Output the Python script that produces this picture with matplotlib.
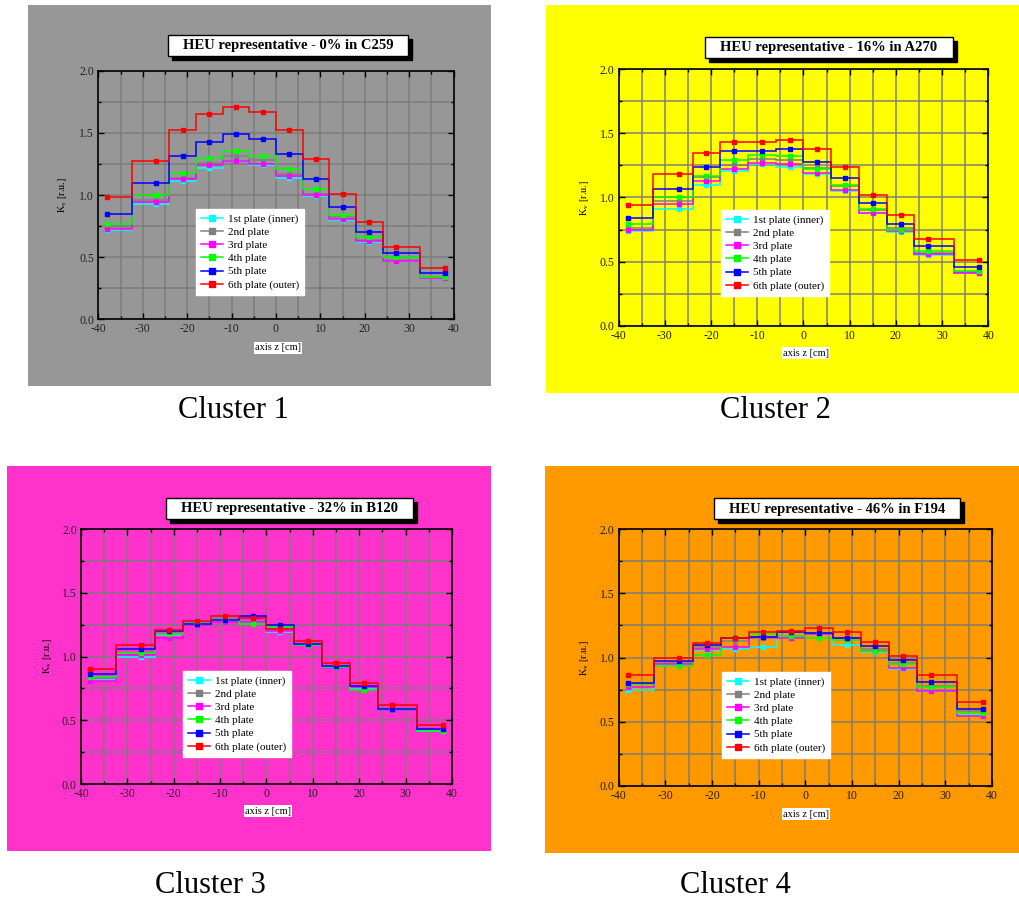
import matplotlib
matplotlib.use("Agg")
import matplotlib.pyplot as plt
from matplotlib.patches import Rectangle
from matplotlib.ticker import MultipleLocator, FormatStrFormatter

plt.rcParams['font.family'] = ['Liberation Serif', 'DejaVu Serif']
plt.rcParams['axes.unicode_minus'] = False
plt.rcParams['mathtext.fontset'] = 'custom'
plt.rcParams['mathtext.rm'] = 'Liberation Serif'

W, H = 1020, 905

# axial step edges and mid points [cm]
edges = [-38.5, -32.5, -24, -18, -12, -6, 0, 6, 12, 18, 24, 32.5, 38.5]
z_points = [-38, -27, -21, -15, -9, -3, 3, 9, 15, 21, 27, 38]

plate_names = ["1st plate (inner)", "2nd plate", "3rd plate",
               "4th plate", "5th plate", "6th plate (outer)"]
plate_colors = ["#00ffff", "#808080", "#ff00ff", "#00ff00", "#0000ff", "#ff0000"]

titles = ["HEU representative - 0% in C259", "HEU representative - 16% in A270",
          "HEU representative - 32% in B120", "HEU representative - 46% in F194"]
cluster_names = ["Cluster 1", "Cluster 2", "Cluster 3", "Cluster 4"]

# Kv per plate, cluster 1
c1_p1 = [0.72, 0.93, 1.11, 1.22, 1.27, 1.24, 1.14, 0.99, 0.80, 0.62, 0.47, 0.33]
c1_p2 = [0.74, 0.96, 1.14, 1.26, 1.31, 1.28, 1.17, 1.01, 0.82, 0.64, 0.48, 0.34]
c1_p3 = [0.73, 0.94, 1.13, 1.24, 1.27, 1.25, 1.15, 1.00, 0.81, 0.63, 0.47, 0.33]
c1_p4 = [0.77, 1.00, 1.18, 1.30, 1.35, 1.31, 1.21, 1.05, 0.84, 0.66, 0.50, 0.34]
c1_p5 = [0.85, 1.10, 1.31, 1.43, 1.49, 1.45, 1.33, 1.13, 0.90, 0.70, 0.53, 0.37]
c1_p6 = [0.98, 1.27, 1.52, 1.65, 1.71, 1.67, 1.52, 1.29, 1.01, 0.78, 0.58, 0.41]

# cluster 2
c2_p1 = [0.74, 0.91, 1.10, 1.21, 1.26, 1.24, 1.18, 1.05, 0.88, 0.73, 0.55, 0.41]
c2_p2 = [0.76, 0.97, 1.16, 1.25, 1.30, 1.29, 1.23, 1.09, 0.90, 0.76, 0.57, 0.42]
c2_p3 = [0.75, 0.95, 1.13, 1.22, 1.27, 1.26, 1.19, 1.06, 0.88, 0.74, 0.56, 0.41]
c2_p4 = [0.79, 1.00, 1.17, 1.29, 1.33, 1.32, 1.22, 1.10, 0.91, 0.75, 0.58, 0.43]
c2_p5 = [0.84, 1.07, 1.24, 1.36, 1.36, 1.38, 1.28, 1.15, 0.96, 0.79, 0.62, 0.46]
c2_p6 = [0.94, 1.18, 1.35, 1.43, 1.43, 1.45, 1.38, 1.24, 1.02, 0.86, 0.68, 0.51]

# cluster 3
c3_p1 = [0.82, 1.00, 1.17, 1.26, 1.29, 1.27, 1.19, 1.09, 0.91, 0.75, 0.58, 0.42]
c3_p2 = [0.83, 1.03, 1.18, 1.27, 1.30, 1.28, 1.23, 1.10, 0.93, 0.76, 0.59, 0.43]
c3_p3 = [0.81, 1.01, 1.15, 1.25, 1.27, 1.27, 1.20, 1.09, 0.91, 0.76, 0.58, 0.43]
c3_p4 = [0.84, 1.03, 1.18, 1.26, 1.29, 1.26, 1.23, 1.09, 0.92, 0.74, 0.59, 0.42]
c3_p5 = [0.86, 1.06, 1.20, 1.26, 1.29, 1.32, 1.25, 1.10, 0.93, 0.77, 0.59, 0.43]
c3_p6 = [0.90, 1.09, 1.21, 1.28, 1.32, 1.30, 1.22, 1.12, 0.95, 0.79, 0.62, 0.46]

# cluster 4
c4_p1 = [0.75, 0.94, 1.06, 1.07, 1.08, 1.16, 1.18, 1.10, 1.04, 0.91, 0.74, 0.55]
c4_p2 = [0.79, 0.96, 1.08, 1.13, 1.15, 1.17, 1.19, 1.15, 1.07, 0.96, 0.78, 0.58]
c4_p3 = [0.77, 0.95, 1.07, 1.08, 1.16, 1.15, 1.18, 1.15, 1.05, 0.92, 0.74, 0.54]
c4_p4 = [0.79, 0.93, 1.02, 1.15, 1.18, 1.17, 1.15, 1.14, 1.05, 0.95, 0.77, 0.57]
c4_p5 = [0.80, 0.97, 1.10, 1.15, 1.16, 1.20, 1.19, 1.15, 1.09, 0.98, 0.81, 0.60]
c4_p6 = [0.86, 1.00, 1.11, 1.15, 1.20, 1.21, 1.23, 1.20, 1.12, 1.01, 0.86, 0.65]

clusters = [
    [c1_p1, c1_p2, c1_p3, c1_p4, c1_p5, c1_p6],
    [c2_p1, c2_p2, c2_p3, c2_p4, c2_p5, c2_p6],
    [c3_p1, c3_p2, c3_p3, c3_p4, c3_p5, c3_p6],
    [c4_p1, c4_p2, c4_p3, c4_p4, c4_p5, c4_p6],
]

# layout in pixels (from top-left)
bg_colors = ["#979797", "#ffff00", "#ff33cc", "#ff9900"]
bg_boxes = [(28, 5, 491, 386), (546, 5, 1020, 393), (7, 466, 491, 851), (545, 466, 1020, 853)]
ax_boxes = [(98.3, 70.7, 453.7, 319.3), (618.7, 69.3, 988.3, 325.7),
            (81, 529.3, 452, 784), (618.7, 529.3, 992, 785.7)]
title_pos = [(288, 45.5), (829, 47.5), (290, 508.5), (837, 509)]
cluster_pos = [(233, 410), (775, 410), (210, 885), (735, 885)]
legend_pos = [(196, 209), (721, 210), (183, 671), (722, 672)]
xlabel_pos = [(278, 348), (806, 353), (268, 811), (806, 814)]
ylabel_pos = [(63, 195), (585, 198), (47, 656), (585, 658)]


def fx(x):
    return x / W


def fy(y):
    return 1 - y / H


fig = plt.figure(figsize=(W / 100, H / 100), dpi=100)
fig.patch.set_facecolor("white")

title_texts = []
for i in range(4):
    x0, y0, x1, y1 = bg_boxes[i]
    fig.add_artist(Rectangle((fx(x0), fy(y1)), fx(x1 - x0), (y1 - y0) / H,
                             transform=fig.transFigure, facecolor=bg_colors[i],
                             edgecolor="none", zorder=-5))

    a0, b0, a1, b1 = ax_boxes[i]
    ax = fig.add_axes([fx(a0), fy(b1), fx(a1 - a0), (b1 - b0) / H])
    ax.set_facecolor("none")

    for vals, name, col in zip(clusters[i], plate_names, plate_colors):
        ax.stairs(vals, edges, baseline=None, color=col, lw=1.1, zorder=3)
        ax.plot(z_points, vals, ls="none", marker="s", ms=3.3, color=col, zorder=4)
        ax.plot([], [], color=col, marker="s", ms=4.5, lw=1.1, label=name)

    ax.set_xlim(-40, 40)
    ax.set_ylim(0, 2.0)
    ax.xaxis.set_major_locator(MultipleLocator(10))
    ax.xaxis.set_minor_locator(MultipleLocator(5))
    ax.yaxis.set_major_locator(MultipleLocator(0.5))
    ax.yaxis.set_minor_locator(MultipleLocator(0.25))
    ax.yaxis.set_major_formatter(FormatStrFormatter("%.1f"))
    ax.grid(True, which="both", color="#7a7a7a", lw=1.3, alpha=0.8, zorder=1)
    ax.set_axisbelow(True)
    ax.tick_params(which="both", direction="in", top=True, right=True,
                   labelsize=8.5, labelcolor="#222222", pad=3)
    ax.tick_params(which="major", length=4, width=1)
    ax.tick_params(which="minor", length=2.5, width=1)
    for sp in ax.spines.values():
        sp.set_linewidth(1.2)
        sp.set_color("black")

    leg = ax.legend(loc="upper left", bbox_to_anchor=(fx(legend_pos[i][0]), fy(legend_pos[i][1])),
                    bbox_transform=fig.transFigure, fontsize=8, frameon=True,
                    fancybox=False, edgecolor="white", framealpha=1,
                    handlelength=2.0, handletextpad=0.4, labelspacing=0.3,
                    borderpad=0.45, borderaxespad=0)
    leg.set_zorder(10)

    tx, ty = title_pos[i]
    t = fig.text(fx(tx), fy(ty), titles[i], ha="center", va="center",
                 fontsize=10.5, fontweight="bold", color="black", zorder=6)
    title_texts.append(t)

    lx, ly = xlabel_pos[i]
    fig.text(fx(lx), fy(ly), "axis z [cm]", ha="center", va="center", fontsize=7.5,
             bbox=dict(boxstyle="square,pad=0.1", fc="white", ec="none"))
    px, py = ylabel_pos[i]
    fig.text(fx(px), fy(py), r"K$_\mathregular{v}$ [r.u.]", ha="center", va="center",
             fontsize=7.5, rotation=90)

    cx, cy = cluster_pos[i]
    fig.text(fx(cx), fy(cy), cluster_names[i], ha="center", va="center", fontsize=22)

# title boxes with drop shadow, sized from the rendered text
fig.canvas.draw()
for t in title_texts:
    bb = t.get_window_extent()
    bx0, bx1 = bb.x0 - 15, bb.x1 + 15
    cy = (bb.y0 + bb.y1) / 2
    by0, by1 = cy - 10.5, cy + 10.5
    fig.add_artist(Rectangle((bx0 / W + 4 / W, by0 / H - 4 / H), (bx1 - bx0) / W, (by1 - by0) / H,
                             transform=fig.transFigure, fc="black", ec="black", zorder=4))
    fig.add_artist(Rectangle((bx0 / W, by0 / H), (bx1 - bx0) / W, (by1 - by0) / H,
                             transform=fig.transFigure, fc="white", ec="black", lw=1, zorder=5))

fig.savefig("out.png", dpi=100)
